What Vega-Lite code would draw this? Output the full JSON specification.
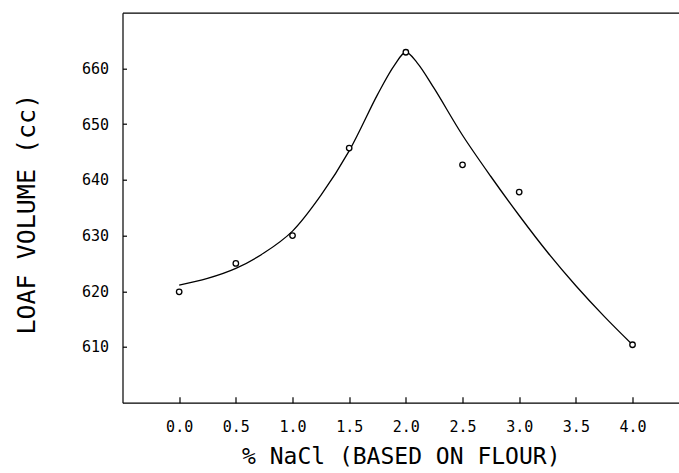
{
  "$schema": "https://vega.github.io/schema/vega-lite/v6.json",
  "width": 556.5,
  "height": 390,
  "autosize": {"type": "none"},
  "padding": {"left": 122.5, "top": 12.7, "right": 0, "bottom": 70.3},
  "background": "white",
  "config": {
    "view": {"stroke": null},
    "axis": {
      "domainColor": "black",
      "domainWidth": 1.2,
      "tickColor": "black",
      "tickWidth": 1.2,
      "grid": false,
      "labelFont": "DejaVu Sans Mono",
      "labelColor": "black",
      "labelFontSize": 15,
      "titleFont": "DejaVu Sans Mono",
      "titleFontWeight": "normal",
      "titleColor": "black",
      "titleFontSize": 23
    }
  },
  "datasets": {
    "curve": [
      {"nacl": 0.0, "volume": 621.1},
      {"nacl": 0.25, "volume": 622.3},
      {"nacl": 0.5, "volume": 624.1},
      {"nacl": 0.75, "volume": 626.9},
      {"nacl": 1.0, "volume": 630.8},
      {"nacl": 1.25, "volume": 637.2},
      {"nacl": 1.5, "volume": 645.2},
      {"nacl": 1.75, "volume": 655.3},
      {"nacl": 1.9, "volume": 660.6},
      {"nacl": 2.0, "volume": 662.9},
      {"nacl": 2.1, "volume": 661.0},
      {"nacl": 2.25, "volume": 656.4},
      {"nacl": 2.5, "volume": 648.0},
      {"nacl": 2.75, "volume": 640.6},
      {"nacl": 3.0, "volume": 633.6},
      {"nacl": 3.25, "volume": 627.0},
      {"nacl": 3.5, "volume": 621.0},
      {"nacl": 3.75, "volume": 615.5},
      {"nacl": 4.0, "volume": 610.4}
    ],
    "observed": [
      {"nacl": 0.0, "volume": 619.9},
      {"nacl": 0.5, "volume": 625.0},
      {"nacl": 1.0, "volume": 630.0},
      {"nacl": 1.5, "volume": 645.7},
      {"nacl": 2.0, "volume": 662.9},
      {"nacl": 2.5, "volume": 642.7},
      {"nacl": 3.0, "volume": 637.8},
      {"nacl": 4.0, "volume": 610.4}
    ]
  },
  "layer": [
    {
      "data": {"name": "curve"},
      "mark": {"type": "line", "interpolate": "catmull-rom", "color": "black", "strokeWidth": 1.3},
      "encoding": {
        "x": {
          "field": "nacl", "type": "quantitative",
          "scale": {"domain": [-0.5, 4.41], "nice": false, "zero": false},
          "axis": {
            "orient": "bottom",
            "values": [0, 0.5, 1, 1.5, 2, 2.5, 3, 3.5, 4],
            "format": ".1f",
            "tickSize": -6,
            "labelPadding": 23,
            "labelBaseline": "top",
            "title": "% NaCl (BASED ON FLOUR)",
            "titlePadding": 11
          }
        },
        "y": {
          "field": "volume", "type": "quantitative",
          "scale": {"domain": [600, 670], "nice": false, "zero": false},
          "axis": {
            "values": [610, 620, 630, 640, 650, 660],
            "tickSize": -4,
            "labelPadding": 18,
            "title": "LOAF VOLUME (cc)",
            "titleFontSize": 25,
            "titleX": -96,
            "titleY": 201,
            "titleAngle": -90,
            "titleBaseline": "middle",
            "titleAlign": "center"
          }
        }
      }
    },
    {
      "data": {"name": "observed"},
      "mark": {"type": "point", "shape": "circle", "filled": false, "fill": "white", "fillOpacity": 1, "stroke": "black", "strokeWidth": 1.3, "size": 30, "opacity": 1},
      "encoding": {
        "x": {
          "field": "nacl", "type": "quantitative",
          "axis": {"orient": "top", "labels": false, "ticks": false, "title": null, "domainColor": "black"}
        },
        "y": {"field": "volume", "type": "quantitative"}
      }
    }
  ],
  "resolve": {"axis": {"x": "independent"}}
}
